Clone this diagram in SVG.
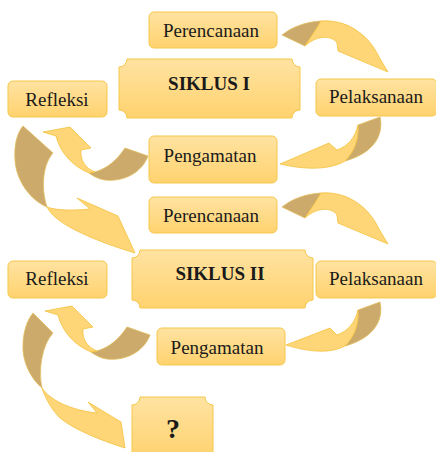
<svg xmlns="http://www.w3.org/2000/svg" width="436" height="452" viewBox="0 0 436 452">
<defs>
<linearGradient id="boxg" x1="0" y1="0" x2="0" y2="1">
<stop offset="0" stop-color="#FFE3A2"/>
<stop offset="1" stop-color="#FFD26E"/>
</linearGradient>
<style>
.box{fill:url(#boxg);stroke:#F5C84A;stroke-width:1}
.lbl{font-family:"Liberation Serif","Times New Roman",serif;font-size:19px;fill:#1a1a1a;text-anchor:middle}
.ttl{font-family:"Liberation Serif","Times New Roman",serif;font-size:19px;font-weight:bold;fill:#1a1a1a;text-anchor:middle}
.dk{fill:#CBAA6C;stroke:#E2BC5C;stroke-width:0.8;stroke-linejoin:round}
.lt{fill:#FFD677;stroke:#F2C23E;stroke-width:0.8;stroke-linejoin:round}
</style>
</defs>
<rect width="436" height="452" fill="#ffffff"/>
<g id="connectors">
<g id="a1">
<path class="dk" d="M282,35 C292,27 305,22 321,21 C316,30 310,38 305,46 Z"/>
<path class="lt" d="M321,21 C345,19 368,33 379,57 L388,72 L338,51 L337,43 C333,36 318,34 305,46 C310,38 316,30 321,21 Z"/>
</g>
<g id="a2">
<path class="dk" d="M358,125 L380,117 C384,135 374,153 345,161 C354,152 359,140 358,125 Z"/>
<path class="lt" d="M345,161 C330,170 305,170 280,164 L329,143 L337,150 C348,146 355,138 358,125 C359,140 354,152 345,161 Z"/>
</g>
<g id="a3">
<path class="dk" d="M125,148 L148,156 C142,172 125,182 105,180 C98,179 93,176 89,173 L95,172 C108,168 117,160 125,148 Z"/>
<path class="lt" d="M89,173 C72,166 60,152 56,136 L43,132 L70,127 L91,148 L81,150 C80,160 85,168 95,172 Z"/>
</g>
<g id="a4">
<path class="dk" d="M23,126 L53,153 C44,163 40,185 47,207 C30,200 16,180 15,160 C14,145 17,133 23,126 Z"/>
<path class="lt" d="M47,207 C55,210 70,211 90,209 L77,198 L118,216 L135,253 C115,247 95,240 75,230 C60,222 51,215 47,207 Z"/>
</g>
<g id="a5" transform="translate(0,172)">
<path class="dk" d="M282,35 C292,27 305,22 321,21 C316,30 310,38 305,46 Z"/>
<path class="lt" d="M321,21 C345,19 368,33 379,57 L388,72 L338,51 L337,43 C333,36 318,34 305,46 C310,38 316,30 321,21 Z"/>
</g>
<g id="a6">
<path class="dk" d="M358,310 L380,302 C384,320 374,338 345,346 C354,337 359,325 358,310 Z"/>
<path class="lt" d="M345,346 C330,354 308,352 286,345 L330,328 L337,335 C348,331 355,323 358,310 C359,325 354,337 345,346 Z"/>
</g>
<g id="a7" transform="translate(2,179)">
<path class="dk" d="M125,148 L148,156 C142,172 125,182 105,180 C98,179 93,176 89,173 L95,172 C108,168 117,160 125,148 Z"/>
<path class="lt" d="M89,173 C72,166 60,152 56,136 L43,132 L70,127 L91,148 L81,150 C80,160 85,168 95,172 Z"/>
</g>
<g id="a8">
<path class="dk" d="M33,313 L53,333 C42,345 38,370 42,388 C30,378 22,360 23,345 C23,333 27,320 33,313 Z"/>
<path class="lt" d="M42,388 C50,400 70,410 97,413 L88,402 L121,422 L125,448 C100,440 75,430 60,418 C52,410 45,398 42,388 Z"/>
</g>
</g>
<g id="perencanaan1"><rect class="box" x="149" y="12" width="128" height="36" rx="5"/><text class="lbl" x="211" y="37">Perencanaan</text></g>
<g id="siklus1"><path class="box" d="M127,59 H292 A8,8 0 0 0 300,67 V110 A8,8 0 0 0 292,118 H127 A8,8 0 0 0 119,110 V67 A8,8 0 0 0 127,59 Z"/><text class="ttl" x="209" y="90">SIKLUS I</text></g>
<g id="refleksi1"><rect class="box" x="8" y="81" width="99" height="36" rx="5"/><text class="lbl" x="57" y="106">Refleksi</text></g>
<g id="pelaksanaan1"><rect class="box" x="316" y="79" width="121" height="37" rx="5"/><text class="lbl" x="376" y="103">Pelaksanaan</text></g>
<g id="pengamatan1"><rect class="box" x="149" y="136" width="128" height="47" rx="5"/><text class="lbl" x="210" y="162">Pengamatan</text></g>
<g id="perencanaan2"><rect class="box" x="149" y="197" width="128" height="36" rx="5"/><text class="lbl" x="211" y="222">Perencanaan</text></g>
<g id="siklus2"><path class="box" d="M140,250 H305 A8,8 0 0 0 313,258 V300 A8,8 0 0 0 305,308 H140 A8,8 0 0 0 132,300 V258 A8,8 0 0 0 140,250 Z"/><text class="ttl" x="220" y="280">SIKLUS II</text></g>
<g id="refleksi2"><rect class="box" x="8" y="261" width="99" height="37" rx="5"/><text class="lbl" x="57" y="285">Refleksi</text></g>
<g id="pelaksanaan2"><rect class="box" x="316" y="261" width="121" height="37" rx="5"/><text class="lbl" x="376" y="285">Pelaksanaan</text></g>
<g id="pengamatan2"><rect class="box" x="157" y="328" width="128" height="37" rx="5"/><text class="lbl" x="217" y="354">Pengamatan</text></g>
<g id="question"><path class="box" d="M140,397 H205 A8,8 0 0 0 213,405 V458 H132 V405 A8,8 0 0 0 140,397 Z"/><text class="ttl" x="173" y="438" style="font-size:28px">?</text></g>
</svg>
